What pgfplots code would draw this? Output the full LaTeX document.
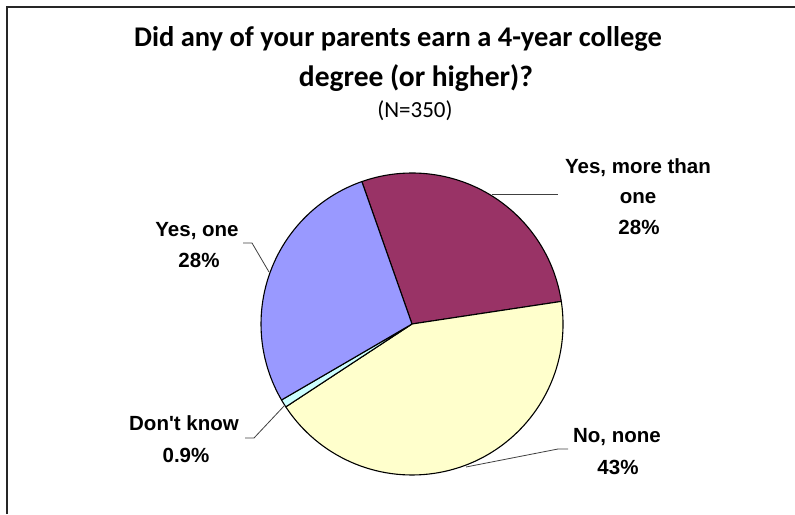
\documentclass[border=0pt]{standalone}
\usepackage{fontspec}
\setmainfont{Carlito}
\newfontfamily\lblfont{Liberation Sans}
\usepackage{pgfplots}
\usepackage{pgfplotstable}
\pgfplotsset{compat=1.18}

\definecolor{cMore}{HTML}{993366}
\definecolor{cNone}{HTML}{FFFFCC}
\definecolor{cDk}{HTML}{CCFFFF}
\definecolor{cOne}{HTML}{9999FF}
\definecolor{leader}{gray}{0.25}

% counts out of N=350, in drawing order (clockwise)
\pgfplotstableread{
key  count
more 98
none 151
dk   3
one  98
}\piedata

\begin{document}
\begin{tikzpicture}
\pgfplotstablegetelem{0}{count}\of\piedata\edef\nMore{\pgfplotsretval}
\pgfplotstablegetelem{1}{count}\of\piedata\edef\nNone{\pgfplotsretval}
\pgfplotstablegetelem{2}{count}\of\piedata\edef\nDk{\pgfplotsretval}
\pgfplotstablegetelem{3}{count}\of\piedata\edef\nOne{\pgfplotsretval}
\pgfmathsetmacro\tot{\nMore+\nNone+\nDk+\nOne}
\pgfmathsetmacro\aA{109.4}
\pgfmathsetmacro\aB{\aA-360*(\nMore/\tot)}
\pgfmathsetmacro\aC{\aB-360*(\nNone/\tot)}
\pgfmathsetmacro\aD{\aC-360*(\nDk/\tot)}
\pgfmathsetmacro\aE{\aD-360*(\nOne/\tot)}
\def\R{151pt}

\begin{axis}[
    scale only axis, width=795pt, height=514pt,
    xmin=0, xmax=795, ymin=0, ymax=514,
    hide axis, clip=false,
]
% frame (left and top only)
\draw[line width=1.3pt, black!85] (axis cs:7,0) -- (axis cs:7,507) -- (axis cs:795,507);

% title
\node[anchor=base, font=\fontsize{28.5}{34}\selectfont\bfseries] at (axis cs:398,467) {Did any of your parents earn a 4-year college};
\node[anchor=base, font=\fontsize{29.5}{34}\selectfont\bfseries] at (axis cs:416,427) {degree (or higher)?};
\node[anchor=base, font=\fontsize{23}{28}\selectfont] at (axis cs:415,396) {(N=350)};

% slices
\begin{scope}[line width=1.1pt, line join=round, draw=black]
\filldraw[fill=cMore] (axis cs:412,190) -- +(\aA:\R) arc[start angle=\aA, end angle=\aB, radius=\R] -- cycle;
\filldraw[fill=cNone] (axis cs:412,190) -- +(\aB:\R) arc[start angle=\aB, end angle=\aC, radius=\R] -- cycle;
\filldraw[fill=cDk]   (axis cs:412,190) -- +(\aC:\R) arc[start angle=\aC, end angle=\aD, radius=\R] -- cycle;
\filldraw[fill=cOne]  (axis cs:412,190) -- +(\aD:\R) arc[start angle=\aD, end angle=\aE, radius=\R] -- cycle;
\end{scope}

% leader lines
\begin{scope}[leader, line width=0.8pt]
\draw (axis cs:492,320) -- (axis cs:558,320);
\draw (axis cs:243,271) -- (axis cs:252,271) -- (axis cs:269,242);
\draw (axis cs:245,76) -- (axis cs:254,76) -- (axis cs:285,109);
\draw (axis cs:568,65) -- (axis cs:558,65) -- (axis cs:466,47);
\end{scope}

% data labels
\begin{scope}[every node/.style={anchor=base, font=\lblfont\bfseries\fontsize{20.5}{24}\selectfont}]
\node at (axis cs:638,340) {Yes, more than};
\node at (axis cs:638,310) {one};
\node at (axis cs:639,279) {28\%};
\node at (axis cs:197,277) {Yes, one};
\node at (axis cs:199,246) {28\%};
\node at (axis cs:184,83) {Don't know};
\node at (axis cs:186,51) {0.9\%};
\node at (axis cs:617,71) {No, none};
\node at (axis cs:618,39) {43\%};
\end{scope}
\end{axis}
\pgfresetboundingbox
\useasboundingbox (0,0) rectangle (795pt,514pt);
\end{tikzpicture}
\end{document}
